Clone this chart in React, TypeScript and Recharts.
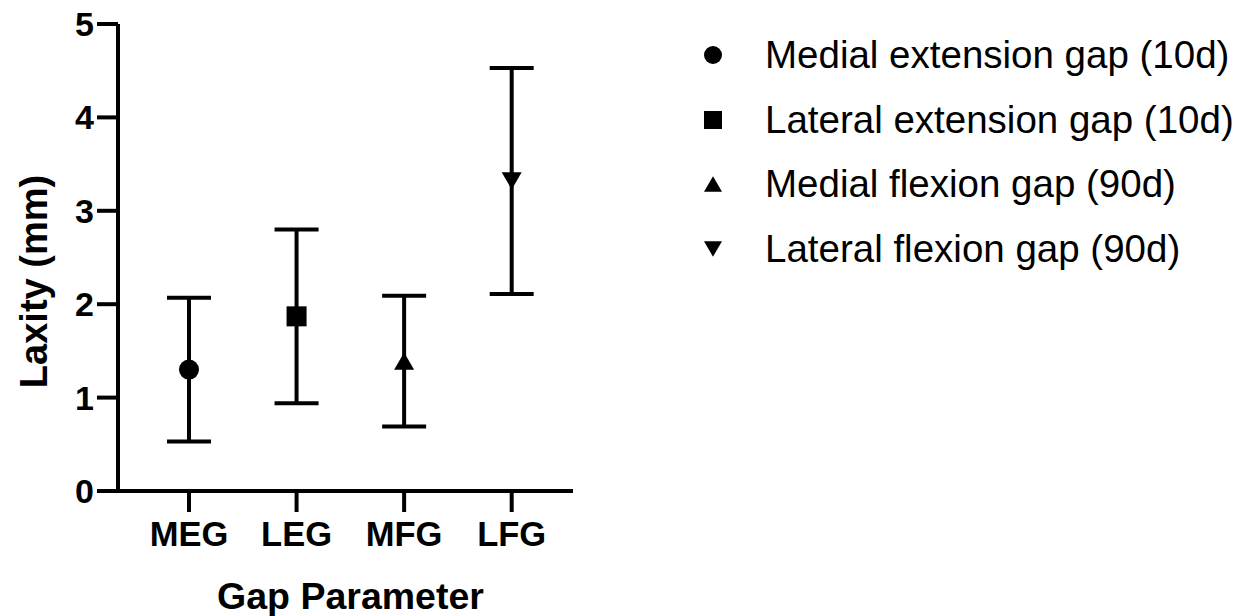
import React from 'react';
import { ScatterChart, Scatter, XAxis, YAxis, ErrorBar, Legend } from 'recharts';

// Gap laxity per parameter: mean ± SD (mm)
const categories = ['MEG', 'LEG', 'MFG', 'LFG'];
const seriesNames = [
  'Medial extension gap (10d)',
  'Lateral extension gap (10d)',
  'Medial flexion gap (90d)',
  'Lateral flexion gap (90d)',
];
const means = [1.3, 1.87, 1.39, 3.32];
const sds = [0.77, 0.93, 0.7, 1.21];
const markerKinds = ['circle', 'square', 'triangleUp', 'triangleDown'];
const yTicks = [0, 1, 2, 3, 4, 5];
const xTicks = [1, 2, 3, 4];

const FONT = '"Liberation Sans", Arial, Helvetica, sans-serif';
const INK = '#000';

const drawMarker = (kind: string, cx: number, cy: number, size: number) => {
  const h = size / 2;
  const th = size * 0.43;
  switch (kind) {
    case 'circle':
      return <circle cx={cx} cy={cy} r={h} fill={INK} />;
    case 'square':
      return <rect x={cx - h} y={cy - h} width={size} height={size} fill={INK} />;
    case 'triangleUp':
      return <polygon points={`${cx - h},${cy + th} ${cx + h},${cy + th} ${cx},${cy - th}`} fill={INK} />;
    default:
      return <polygon points={`${cx - h},${cy - th} ${cx + h},${cy - th} ${cx},${cy + th}`} fill={INK} />;
  }
};

const series = seriesNames.map((name, i) => ({
  name,
  kind: markerKinds[i],
  data: [{ x: xTicks[i], y: means[i], sd: sds[i] }],
}));

// legend keeps the series order rather than the default alphabetical sort
const renderLegend = () => (
  <div style={{ fontFamily: FONT, fontSize: 38.5, color: INK, whiteSpace: 'nowrap' }}>
    {seriesNames.map((name, idx) => (
      <div key={name} style={{ display: 'flex', alignItems: 'center', height: 64.5 }}>
        <svg width={40} height={24} style={{ display: 'block' }}>
          {drawMarker(markerKinds[idx], 20, 12, 18)}
        </svg>
        <span style={{ marginLeft: 32 }}>{name}</span>
      </div>
    ))}
  </div>
);

const axisStyle = { stroke: INK, strokeWidth: 4 };

const App = () => {
  return (
    <div style={{ position: 'absolute', left: 0, top: 0, background: '#fff' }}>
      <ScatterChart width={1248} height={616} margin={{ top: 24, right: 675, bottom: 0, left: 0 }}>
        <XAxis
          type="number"
          dataKey="x"
          domain={[0.34, 4.57]}
          allowDataOverflow
          ticks={xTicks}
          tickFormatter={(v: number) => categories[v - 1]}
          height={125}
          axisLine={axisStyle}
          tickLine={axisStyle}
          tickSize={21}
          tickMargin={10}
          tick={{ fill: INK, fontFamily: FONT, fontWeight: 700, fontSize: 34.5 }}
          label={{
            content: ({ viewBox }: any) => (
              <text
                x={viewBox.x + viewBox.width / 2 + 5}
                y={viewBox.y + 118}
                textAnchor="middle"
                fill={INK}
                fontFamily={FONT}
                fontWeight={700}
                fontSize={37.5}
              >
                Gap Parameter
              </text>
            ),
          }}
        />
        <YAxis
          type="number"
          dataKey="y"
          domain={[0, 5]}
          allowDataOverflow
          ticks={yTicks}
          width={118}
          axisLine={axisStyle}
          tickLine={axisStyle}
          tickSize={21}
          tickMargin={3}
          tick={{ fill: INK, fontFamily: FONT, fontWeight: 700, fontSize: 34 }}
          label={{
            content: ({ viewBox }: any) => {
              const lx = 47;
              const ly = viewBox.y + viewBox.height / 2 + 24;
              return (
                <text
                  x={lx}
                  y={ly}
                  transform={`rotate(-90 ${lx} ${ly})`}
                  textAnchor="middle"
                  fill={INK}
                  fontFamily={FONT}
                  fontWeight={700}
                  fontSize={38}
                >
                  Laxity (mm)
                </text>
              );
            },
          }}
        />
        <Legend
          layout="vertical"
          align="center"
          verticalAlign="middle"
          content={renderLegend}
          wrapperStyle={{ left: 693, top: 22.75, width: 'auto' }}
        />
        {series.map((s) => (
          <Scatter
            key={s.name}
            name={s.name}
            data={s.data}
            isAnimationActive={false}
            shape={(p: any) => drawMarker(s.kind, p.cx, p.cy, 20)}
          >
            <ErrorBar dataKey="sd" direction="y" width={22} stroke={INK} strokeWidth={4} />
          </Scatter>
        ))}
      </ScatterChart>
    </div>
  );
};

export default App;
